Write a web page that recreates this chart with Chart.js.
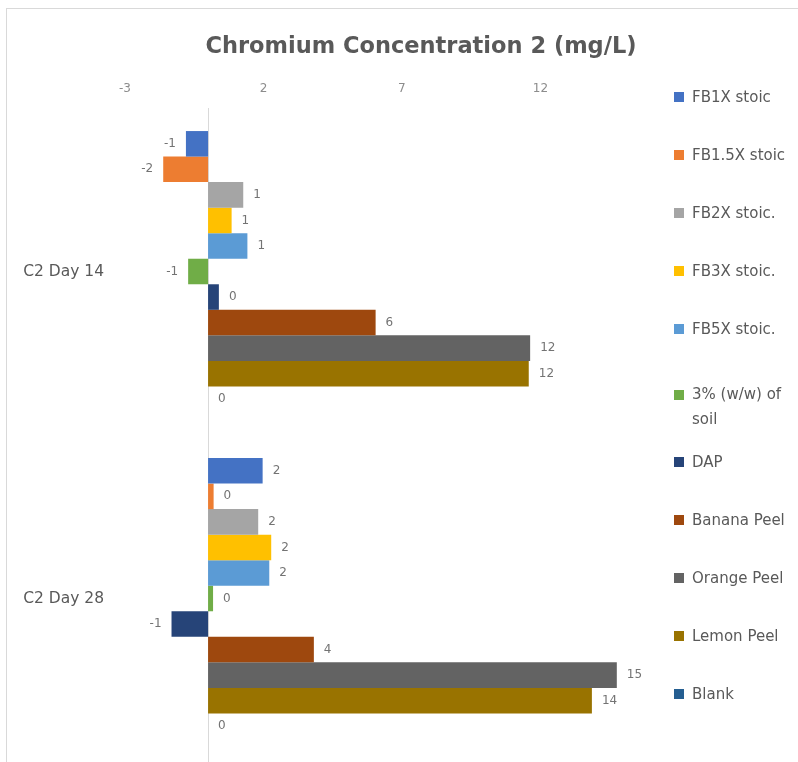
<!DOCTYPE html>
<html>
<head>
<meta charset="utf-8">
<script src="https://cdn.jsdelivr.net/npm/chart.js"></script>
<style>
    body { margin: 0; background: #fff; }
    #wrap { position: relative; width: 798px; height: 762px; overflow: hidden; font-family: "DejaVu Sans", sans-serif; }
    #frame { position: absolute; left: 6px; top: 8px; width: 900px; height: 900px; border: 1px solid #d9d9d9; }
    #chart { position: absolute; left: 0; top: 0; }
    #title { position: absolute; left: 0; top: 30px; width: 842px; line-height: 30px; text-align: center; font-size: 22.5px; font-weight: bold; color: #595959; }
    #legend { position: absolute; left: 674px; top: 86px; width: 124px; display: flex; flex-direction: column; }
    .legend__item { display: flex; align-items: flex-start; flex: none; height: 22px; margin-bottom: 36px; font-size: 15px; line-height: 22px; color: #595959; }
    .legend__item_wrap { margin-top: 6px; margin-bottom: 47px; line-height: 25px; }
    .legend__box { flex: none; width: 10px; height: 10px; margin-top: 6px; margin-right: 8px; }
    .legend__item_wrap .legend__box { margin-top: 7.5px; }
    .legend__text { width: 106px; white-space: normal; }
</style>
</head>
<body>
<div id="wrap">
    <div id="frame"></div>
    <canvas id="chart" width="798" height="762"></canvas>
    <div id="title">Chromium Concentration 2 (mg/L)</div>
    <div id="legend"></div>
</div>
<script>
var categories = ['C2 Day 14', 'C2 Day 28'];
var seriesNames = ['FB1X stoic', 'FB1.5X stoic', 'FB2X stoic.', 'FB3X stoic.', 'FB5X stoic.', '3% (w/w) of soil', 'DAP', 'Banana Peel', 'Orange Peel', 'Lemon Peel', 'Blank'];

var fb1x = [-0.8, 1.97];
var fb15x = [-1.62, 0.2];
var fb2x = [1.27, 1.81];
var fb3x = [0.85, 2.28];
var fb5x = [1.42, 2.21];
var soil3 = [-0.72, 0.18];
var dap = [0.39, -1.32];
var banana = [6.05, 3.82];
var orange = [11.63, 14.76];
var lemon = [11.58, 13.86];
var blank = [0, 0];

var xTicks = [-3, 2, 7, 12];

var seriesValues = [fb1x, fb15x, fb2x, fb3x, fb5x, soil3, dap, banana, orange, lemon, blank];
var colors = ['#4472c4', '#ed7d31', '#a5a5a5', '#ffc000', '#5b9bd5', '#70ad47', '#264478', '#9e480e', '#636363', '#997300', '#255e91'];

// excel style labels: rounded value just past the end of each bar
var barLabels = {
    id: 'barLabels',
    afterDatasetsDraw: function (chart) {
        var ctx = chart.ctx;
        ctx.save();
        ctx.font = '12px "DejaVu Sans"';
        ctx.fillStyle = '#737373';
        ctx.textBaseline = 'middle';
        chart.data.datasets.forEach(function (ds, i) {
            chart.getDatasetMeta(i).data.forEach(function (bar, j) {
                var v = ds.data[j];
                var txt = String(Math.round(v) || 0);
                if (v < 0) {
                    ctx.textAlign = 'right';
                    ctx.fillText(txt, bar.x - 10, bar.y);
                } else {
                    ctx.textAlign = 'left';
                    ctx.fillText(txt, bar.x + 10, bar.y);
                }
            });
        });
        ctx.restore();
    }
};

// vertical axis line sits at x = 0
var zeroLine = {
    id: 'zeroLine',
    beforeDatasetsDraw: function (chart) {
        var ctx = chart.ctx;
        var area = chart.chartArea;
        var x = Math.round(chart.scales.x.getPixelForValue(0)) + 0.5;
        ctx.save();
        ctx.strokeStyle = '#d9d9d9';
        ctx.lineWidth = 1;
        ctx.beginPath();
        ctx.moveTo(x, area.top);
        ctx.lineTo(x, area.bottom);
        ctx.stroke();
        ctx.restore();
    }
};

var datasets = seriesNames.map(function (name, i) {
    return {
        label: name,
        data: seriesValues[i],
        backgroundColor: colors[i],
        borderWidth: 0,
        barPercentage: 1,
        categoryPercentage: 0.859
    };
});

new Chart(document.getElementById('chart'), {
    type: 'bar',
    data: {
        labels: categories,
        datasets: datasets
    },
    options: {
        indexAxis: 'y',
        responsive: false,
        animation: false,
        layout: {
            autoPadding: false,
            padding: { top: 81, left: 15, right: 133, bottom: 0 }
        },
        plugins: {
            legend: { display: false },
            title: { display: false },
            tooltip: { enabled: false }
        },
        scales: {
            x: {
                position: 'top',
                min: -3,
                max: 16.5,
                grid: { display: false, drawTicks: false, tickLength: 0 },
                border: { display: false },
                afterBuildTicks: function (scale) {
                    scale.ticks = xTicks.map(function (v) { return { value: v }; });
                },
                afterFit: function (scale) {
                    scale.height = 27;
                    scale.paddingLeft = 0;
                    scale.paddingRight = 0;
                },
                ticks: {
                    padding: 12,
                    color: '#8c8c8c',
                    font: { family: 'DejaVu Sans', size: 12 }
                }
            },
            y: {
                grid: { display: false, drawTicks: false, tickLength: 0 },
                border: { display: false },
                afterFit: function (scale) {
                    scale.width = 110;
                    scale.paddingTop = 0;
                    scale.paddingBottom = 0;
                },
                ticks: {
                    padding: 21,
                    color: '#595959',
                    font: { family: 'DejaVu Sans', size: 15.5 }
                }
            }
        }
    },
    plugins: [zeroLine, barLabels]
});

var legend = document.getElementById('legend');
seriesNames.forEach(function (name, i) {
    var item = document.createElement('div');
    item.className = 'legend__item' + (name.length > 13 ? ' legend__item_wrap' : '');
    var box = document.createElement('span');
    box.className = 'legend__box';
    box.style.background = colors[i];
    var text = document.createElement('span');
    text.className = 'legend__text';
    text.textContent = name;
    item.appendChild(box);
    item.appendChild(text);
    legend.appendChild(item);
});
</script>
</body>
</html>
